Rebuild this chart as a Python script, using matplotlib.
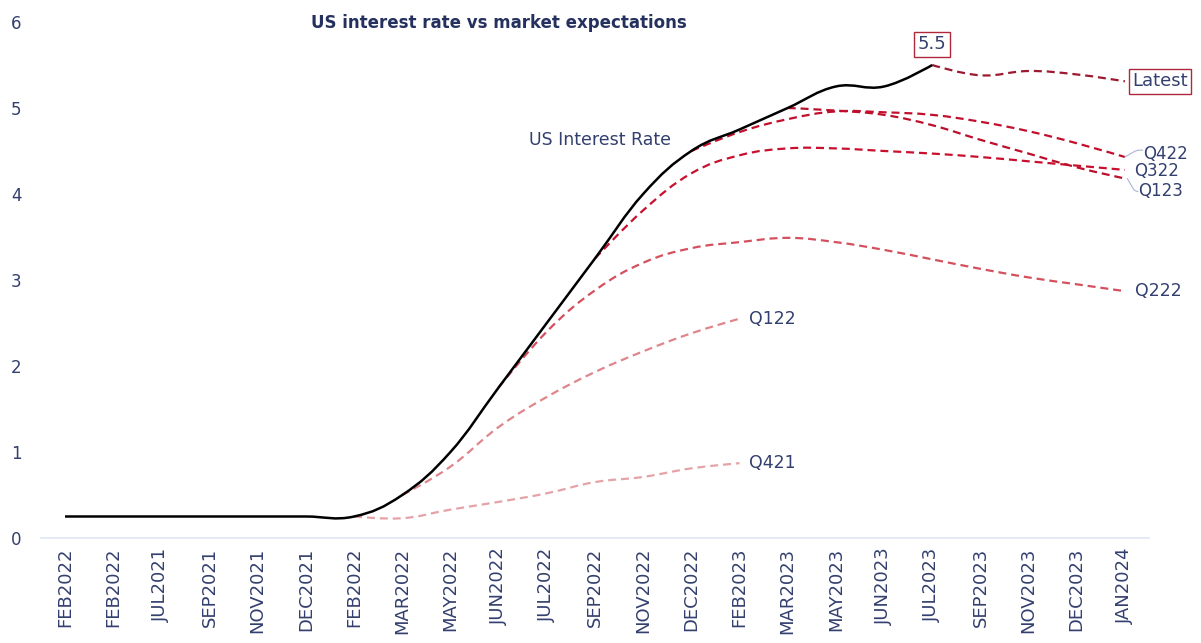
import matplotlib
matplotlib.use('Agg')
import matplotlib.pyplot as plt  # noqa
from matplotlib.path import Path
from matplotlib.patches import PathPatch

months = ["FEB2022", "FEB2022", "JUL2021", "SEP2021", "NOV2021", "DEC2021",
          "FEB2022", "MAR2022", "MAY2022", "JUN2022", "JUL2022", "SEP2022",
          "NOV2022", "DEC2022", "FEB2023", "MAR2023", "MAY2023", "JUN2023",
          "JUL2023", "SEP2023", "NOV2023", "DEC2023", "JAN2024"]

us_rate = [0.25, 0.25, 0.25, 0.25, 0.25, 0.25, 0.25, 0.5, 1.0, 1.75, 2.5,
           3.25, 4.0, 4.5, 4.75, 5.0, 5.25, 5.25, 5.5]

# market expectations, each starting at the month it was taken
q421_start = 6
q421 = [0.25, 0.23, 0.33, 0.42, 0.52, 0.65, 0.71, 0.81, 0.87]
q122_start = 7
q122 = [0.5, 0.83, 1.29, 1.64, 1.93, 2.17, 2.38, 2.55]
q222_start = 9
q222 = [1.75, 2.4, 2.88, 3.2, 3.37, 3.44, 3.49, 3.44, 3.35, 3.24, 3.13,
        3.03, 2.95, 2.87]
q322_start = 11
q322 = [3.25, 3.81, 4.24, 4.45, 4.53, 4.53, 4.5, 4.47, 4.43, 4.38, 4.33, 4.28]
q422_start = 13
q422 = [4.5, 4.72, 4.87, 4.96, 4.95, 4.92, 4.84, 4.73, 4.59, 4.43]
q123_start = 15
q123 = [5.0, 4.97, 4.92, 4.8, 4.63, 4.47, 4.31, 4.18]
latest_start = 18
latest = [5.5, 5.38, 5.43, 5.39, 5.31]

NAVY = '#333f6e'
plt.rcParams['font.family'] = ['DejaVu Sans']


def spline_path(xs, ys, smoothing=1.5):
    # highcharts style spline -> cubic bezier segments
    n = len(xs)
    verts = [(xs[0], ys[0])]
    codes = [Path.MOVETO]
    conts = []
    for i in range(n):
        x, y = xs[i], ys[i]
        if i == 0 or i == n - 1:
            conts.append(((x, y), (x, y)))
            continue
        d = smoothing + 1
        lx = (smoothing * x + xs[i - 1]) / d
        ly = (smoothing * y + ys[i - 1]) / d
        rx = (smoothing * x + xs[i + 1]) / d
        ry = (smoothing * y + ys[i + 1]) / d
        corr = (ry - ly) * (rx - x) / (rx - lx) + y - ry
        conts.append(((lx, ly + corr), (rx, ry + corr)))
    for i in range(1, n):
        verts += [conts[i - 1][1], conts[i][0], (xs[i], ys[i])]
        codes += [Path.CURVE4] * 3
    return Path(verts, codes)


def draw(ax, start, vals, color, lw, ls):
    xs = list(range(start, start + len(vals)))
    patch = PathPatch(spline_path(xs, vals), fill=False, edgecolor=color,
                      lw=lw, ls=ls, capstyle='butt', joinstyle='round')
    ax.add_patch(patch)


fig = plt.figure(figsize=(12.01, 6.43), dpi=100)
ax = fig.add_axes([0.0341, 0.1633, 0.9226, 0.8025])

dash = (0, (3.6, 2.2))
draw(ax, q421_start, q421, '#e4a3a6', 1.6, dash)
draw(ax, q122_start, q122, '#df868c', 1.6, dash)
draw(ax, q222_start, q222, '#d4505e', 1.6, dash)
draw(ax, q322_start, q322, '#c8102e', 1.6, dash)
draw(ax, q422_start, q422, '#c20f2d', 1.6, dash)
draw(ax, q123_start, q123, '#bc0f2c', 1.6, dash)
draw(ax, latest_start, latest, '#9c1a30', 1.6, dash)
draw(ax, 0, us_rate, '#000000', 1.8, '-')

ax.set_xlim(-0.5, len(months) - 0.5)
ax.set_ylim(0, 6)
ax.set_xticks(range(len(months)))
ax.set_xticklabels(months, rotation=90, va='top', ha='center')
ax.set_yticks(range(7))
ax.tick_params(axis='x', length=0, pad=7, labelsize=13, labelcolor=NAVY)
ax.tick_params(axis='y', length=0, pad=14, labelsize=12, labelcolor=NAVY)
for s in ['top', 'right', 'left']:
    ax.spines[s].set_visible(False)
ax.spines['bottom'].set_color('#e0e6f6')
ax.spines['bottom'].set_linewidth(1.2)

fig.text(0.415, 0.965, 'US interest rate vs market expectations',
         ha='center', va='center', fontsize=12, fontweight='bold',
         color='#24305e')

lab = dict(fontsize=12.5, color=NAVY, va='center')
ax.text(12.57, 4.63, 'US Interest Rate', ha='right', **lab)
ax.text(14.2, q421[-1], 'Q421', ha='left', **lab)
ax.text(14.2, q122[-1], 'Q122', ha='left', **lab)
ax.text(22.2, q222[-1], 'Q222', ha='left', **lab)
small = dict(lab, fontsize=12)
ax.text(22.2, 4.27, 'Q322', ha='left', **small)
ax.text(22.37, 4.47, 'Q422', ha='left', **small)
ax.text(22.28, 4.03, 'Q123', ha='left', **small)

con = dict(arrowstyle='-', color='#aab4d8', lw=0.8, shrinkA=0, shrinkB=0)
ax.annotate('', xy=(22.0, q422[-1]), xytext=(22.37, 4.51),
            arrowprops=dict(con, connectionstyle='angle,angleA=0,angleB=30,rad=3'))
ax.annotate('', xy=(22.05, q123[-1]), xytext=(22.27, 4.03),
            arrowprops=dict(con, connectionstyle='angle,angleA=0,angleB=-60,rad=3'))

box = dict(boxstyle='square,pad=0.2', fc='white', ec='#b0283c', lw=1)
ax.text(22.15, latest[-1], 'Latest', ha='left', bbox=box,
        **dict(lab, fontsize=13))
ax.text(18, 5.74, '5.5', ha='center', bbox=box, **dict(lab, fontsize=13))

fig.savefig('out.png', dpi=100)
